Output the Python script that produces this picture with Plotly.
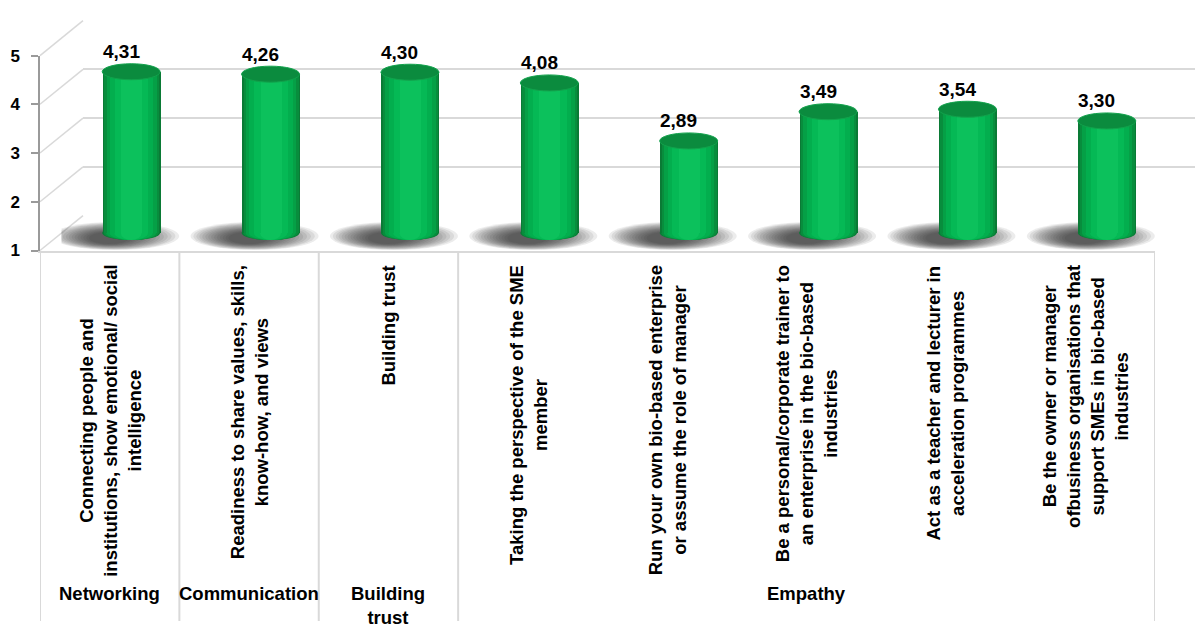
import plotly.graph_objects as go

# ---------------- data ----------------
categories = [
    "Connecting people and<br>institutions, show emotional/ social<br>intelligence",
    "Readiness to share values, skills,<br>know-how, and views",
    "Building trust",
    "Taking the perspective of the SME<br>member",
    "Run your own bio-based enterprise<br>or assume the role of manager",
    "Be a personal/corporate trainer to<br>an enterprise in the bio-based<br>industries",
    "Act as a teacher and lecturer in<br>acceleration programmes",
    "Be the owner or manager<br>ofbusiness organisations that<br>support SMEs in bio-based<br>industries",
]
values = [4.31, 4.26, 4.30, 4.08, 2.89, 3.49, 3.54, 3.30]
group_names = ["Networking", "Communication", "Building<br>trust", "Empathy"]
group_first = [0, 1, 2, 3]
group_last = [0, 1, 2, 7]
y_ticks = [1, 2, 3, 4, 5]

# ---------------- layout geometry (pixels) ----------------
W, H = 1195, 631
def px(x):
    return x / W
def py(y):
    return 1 - y / H

FX0, FX1 = 40, 1155          # front x extent
FY1, FY5 = 249, 48           # front y of value 1 and 5
DX, DY = 43, -36             # depth offset (back wall)
UNIT = (FY1 - FY5) / 4.0
LOW = 0.5                    # extra room below the floor for shadows in the bar subplot

FONT = "Arial, 'Liberation Sans', sans-serif"
GRID = "#d9d9d9"

n = len(categories)
BAR_W = 0.416
strip_w = [0.416, 0.395, 0.36, 0.31, 0.24, 0.15]
strip_c = ["#0a7a35", "#088d3d", "#05a046", "#03ae4e", "#05b955", "#0cc15c"]

fig = go.Figure()

# back wall subplot (xy) - only gridlines
fig.add_trace(go.Scatter(x=[], y=[], xaxis="x", yaxis="y", showlegend=False, hoverinfo="skip"))

# bars (mid depth, x2y2)
for w, c in zip(strip_w, strip_c):
    fig.add_trace(go.Bar(
        x=categories, y=[v - 1 for v in values], base=1, width=w,
        marker=dict(color=c, line=dict(width=0)),
        xaxis="x2", yaxis="y2", showlegend=False, hoverinfo="skip",
    ))

# front subplot (x3y3) - axis + table
fig.add_trace(go.Scatter(x=[], y=[], xaxis="x3", yaxis="y3", showlegend=False, hoverinfo="skip"))

shapes = []
# left wall / floor diagonals
for t in y_ticks:
    yf = FY1 - (t - 1) * UNIT
    shapes.append(dict(type="line", xref="paper", yref="paper",
                       x0=px(FX0), y0=py(yf), x1=px(FX0 + DX), y1=py(yf + DY),
                       line=dict(color=GRID, width=1.5), layer="below"))

# soft shadows + bottom ellipses (between grid and bars of subplot 2)
N_SH = 14
for i in range(n):
    for k in range(N_SH):
        f = k / (N_SH - 1)
        hw = 64 - 44 * f
        hh = 14 - 8 * f
        cx = -16 - 6 * f
        cy = -3 - 2 * f
        shapes.append(dict(type="circle", xref="x2", yref="y2",
                           xsizemode="pixel", ysizemode="pixel", xanchor=i, yanchor=1,
                           x0=cx - hw, x1=cx + hw, y0=cy - hh, y1=cy + hh,
                           fillcolor="#202020", opacity=0.085, line=dict(width=0),
                           layer="between"))
    for w, c in zip(strip_w, strip_c):
        shapes.append(dict(type="circle", xref="x2", yref="y2", ysizemode="pixel", yanchor=1,
                           x0=i - w / 2, x1=i + w / 2, y0=-7, y1=7,
                           fillcolor=c, line=dict(width=0), layer="between"))

# top ellipses
for i, v in enumerate(values):
    shapes.append(dict(type="circle", xref="x2", yref="y2", ysizemode="pixel", yanchor=v,
                       x0=i - BAR_W / 2, x1=i + BAR_W / 2, y0=-8, y1=8,
                       fillcolor="#0b8b3e", line=dict(color="#12a24c", width=1), layer="above"))

# category table vertical lines
bounds = [group_first[0] - 0.5] + [g + 0.5 for g in group_last]
for b in bounds:
    shapes.append(dict(type="line", xref="x3", yref="paper", x0=b, x1=b,
                       y0=0, y1=py(FY1 + 1), line=dict(color=GRID, width=2), layer="below"))

annotations = []
# value labels
for c, v in zip(categories, values):
    annotations.append(dict(x=c, y=v, xref="x2", yref="y2", showarrow=False,
                            text="<b>%s</b>" % ("%.2f" % v).replace(".", ","),
                            xshift=-10, yshift=20, xanchor="center", yanchor="middle",
                            font=dict(family=FONT, size=19, color="black")))
# rotated category labels
for i, c in enumerate(categories):
    annotations.append(dict(x=i, y=py(262), xref="x3", yref="paper", showarrow=False,
                            text="<b>%s</b>" % c.replace("<br>", "</b><br><b>"),
                            textangle=-90, align="center", xanchor="center", yanchor="top",
                            font=dict(family=FONT, size=18.5, color="black")))
# group labels
for g, a, b in zip(group_names, group_first, group_last):
    annotations.append(dict(x=(a + b) / 2, y=py(590), xref="x3", yref="paper", showarrow=False,
                            text="<b>%s</b>" % g.replace("<br>", "</b><br><b>"),
                            align="center", xanchor="center", yanchor="top",
                            font=dict(family=FONT, size=18.5, color="black")))

hidden = dict(showgrid=False, zeroline=False, showticklabels=False, showline=False, ticks="")

fig.update_layout(
    width=W, height=H,
    margin=dict(l=0, r=0, t=0, b=0),
    paper_bgcolor="white", plot_bgcolor="rgba(0,0,0,0)",
    barmode="overlay", bargap=0,
    showlegend=False,
    # back wall
    xaxis=dict(domain=[px(FX0 + DX), 1.0], range=[-0.5, n - 0.5], anchor="y", **hidden),
    yaxis=dict(domain=[py(FY1 + DY), py(FY5 + DY)], range=[0.995, 5.005], anchor="x",
               showgrid=True, gridcolor=GRID, gridwidth=1.5, tickvals=y_ticks,
               zeroline=False, showticklabels=False, showline=False, ticks=""),
    # bars
    xaxis2=dict(domain=[px(FX0 + DX / 2), px(FX1 + DX / 2)], range=[-0.5, n - 0.5],
                anchor="y2", type="category", **hidden),
    yaxis2=dict(domain=[py(FY1 + DY / 2 + LOW * UNIT), py(FY5 + DY / 2)], range=[1 - LOW, 5],
                anchor="x2", **hidden),
    # front axes
    xaxis3=dict(domain=[px(FX0), px(FX1)], range=[-0.5, n - 0.5], anchor="y3",
                showgrid=False, zeroline=False, showticklabels=False, ticks="",
                showline=True, linecolor=GRID, linewidth=2),
    yaxis3=dict(domain=[py(FY1), py(FY5)], range=[1, 5], anchor="x3",
                tickvals=y_ticks, ticktext=["<b>%d</b>" % t for t in y_ticks],
                showgrid=False, zeroline=False, showline=True, linecolor="#9a9a9a", linewidth=1.5,
                ticks="outside", ticklen=7, tickcolor="#9a9a9a", tickwidth=1.5,
                ticklabelstandoff=8,
                tickfont=dict(family=FONT, size=17, color="black")),
    shapes=shapes,
    annotations=annotations,
)

fig.write_html("out.html")
